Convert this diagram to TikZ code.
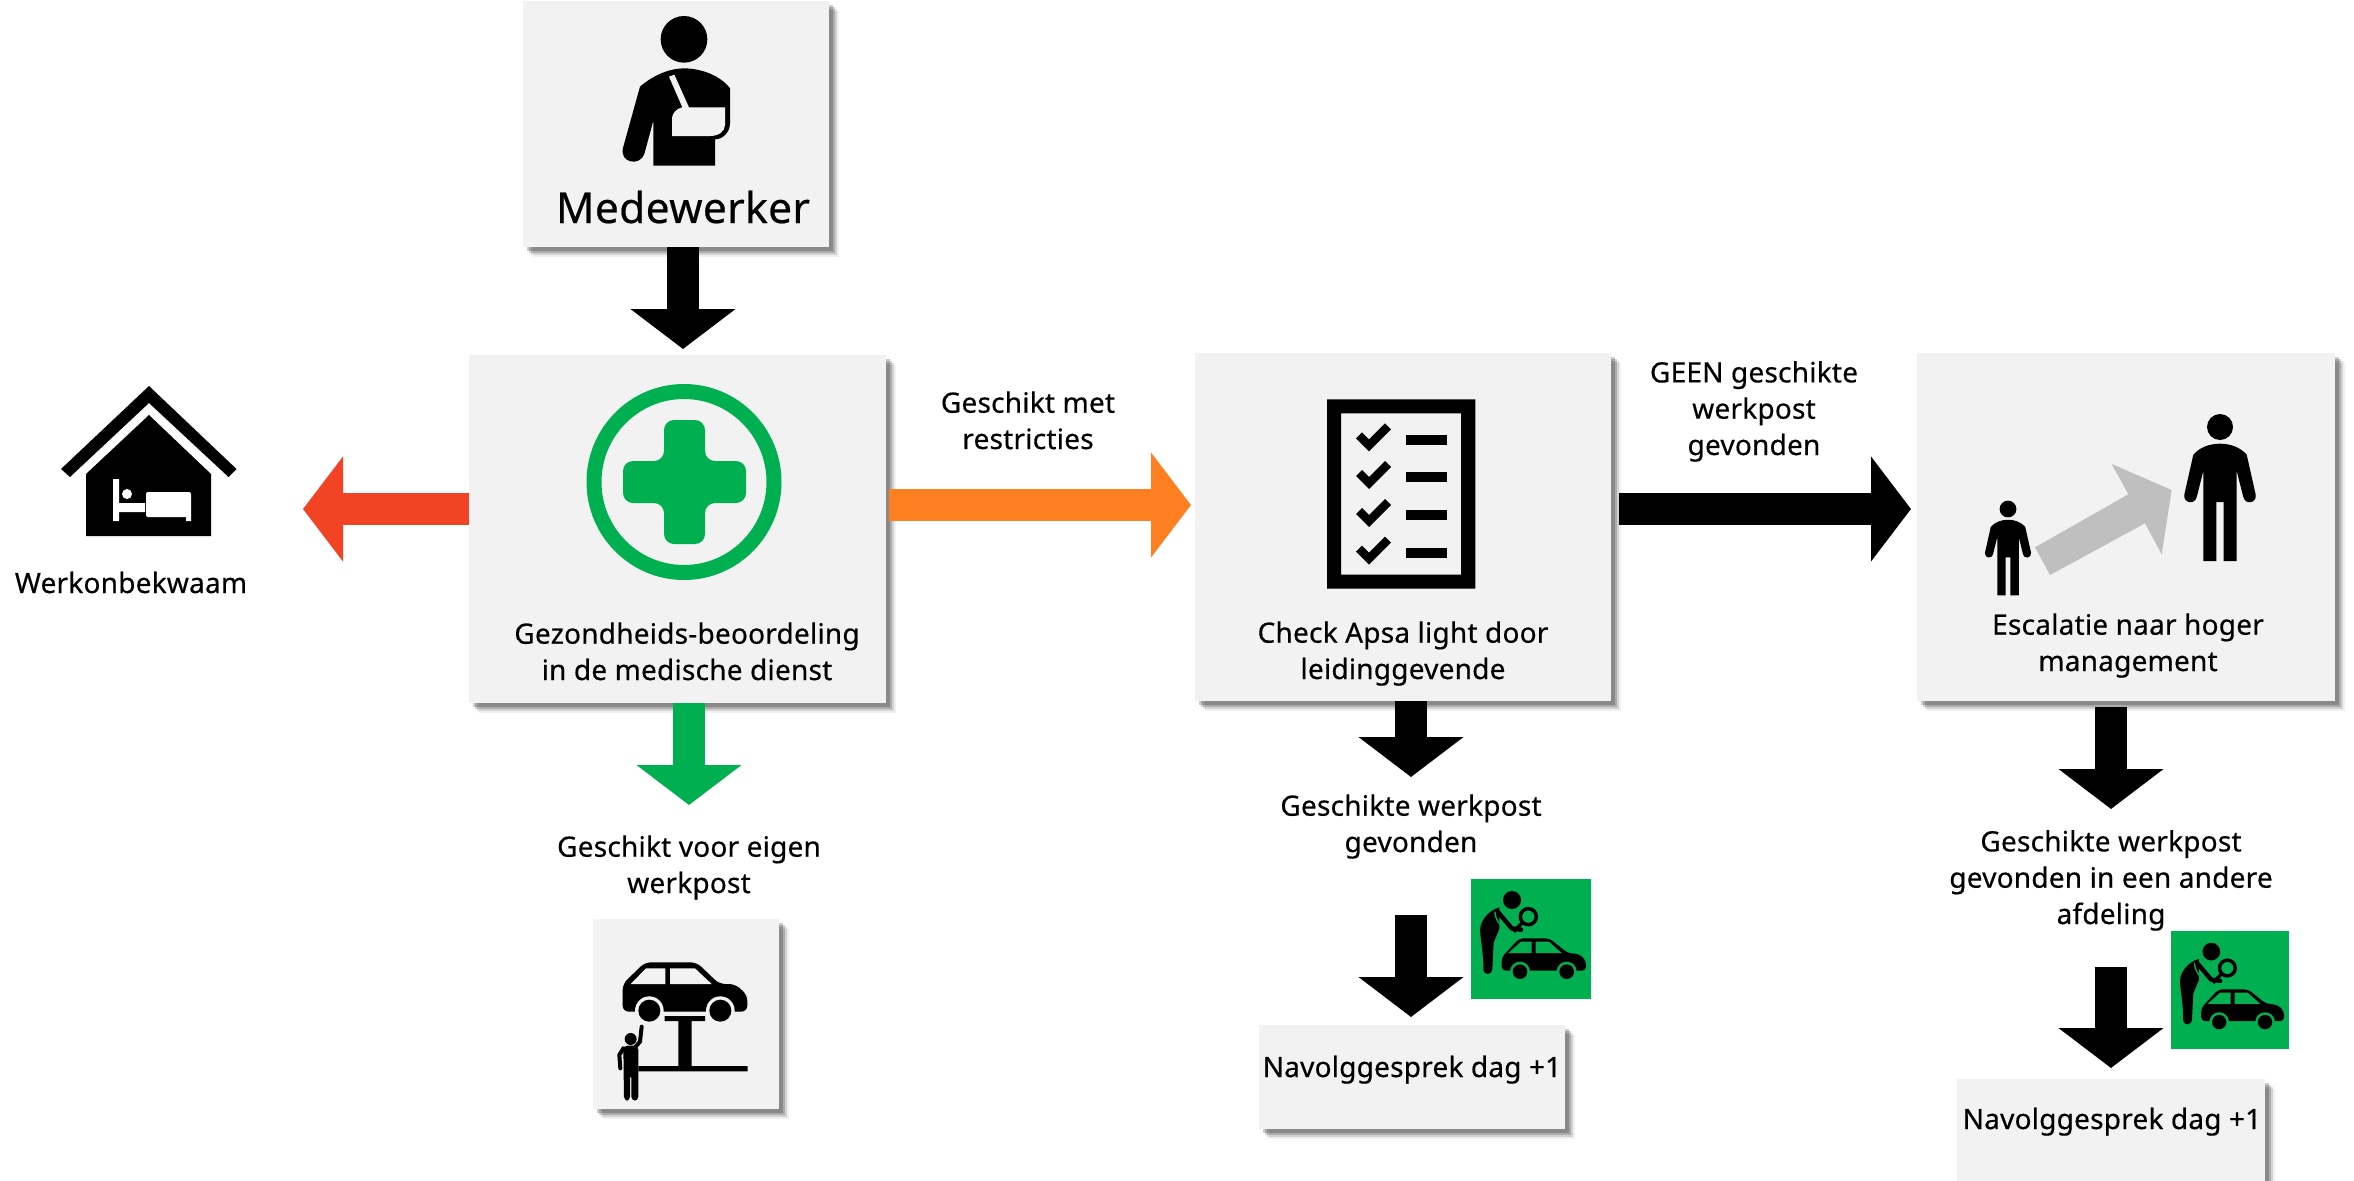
\documentclass[tikz,border=0pt]{standalone}
\usepackage{fontspec}
\setmainfont[LetterSpace=0.8,FakeBold=0.45]{Noto Sans}
\usetikzlibrary{arrows.meta,shadows}
\definecolor{boxgray}{HTML}{F2F2F2}
\definecolor{okgreen}{HTML}{00B050}
\definecolor{redarrow}{HTML}{F24324}
\definecolor{orangearrow}{HTML}{FF8021}
\definecolor{liftgray}{HTML}{BFBFBF}
\tikzset{
  cardbox/.style={fill=boxgray,draw=none,inner sep=0pt,outer sep=0pt,
    general shadow={shadow xshift=10pt,shadow yshift=-10pt,fill=black,opacity=.06},
    general shadow={shadow xshift=8pt,shadow yshift=-8pt,fill=black,opacity=.12},
    general shadow={shadow xshift=6pt,shadow yshift=-6pt,fill=black,opacity=.18},
    general shadow={shadow xshift=4pt,shadow yshift=-4pt,fill=black,opacity=.2}},
  lbl/.style={font=\fontsize{28}{36.3}\selectfont,align=center,inner sep=0pt,text=black},
  blockarrow/.style={line width=32pt,-{Triangle[length=40pt,width=103pt]}},
}
\newcommand{\figperson}[3]{%
  \begin{scope}[shift={(#1,#2)},scale=#3]
    \fill (0,0) circle[radius=13];
    \fill (0,16.7) .. controls (10,16.7) and (20,20) .. (26.7,27.7)
      -- (35.7,67.7) .. controls (37,76) and (25,79) .. (23,69)
      -- (16.7,44) -- (16.7,134) -- (3.7,134) -- (3.7,75) -- (-3.7,75)
      -- (-3.7,134) -- (-16.7,134) -- (-16.7,44) -- (-23,69)
      .. controls (-25,79) and (-37,76) .. (-35.7,67.7)
      -- (-26.7,27.7) .. controls (-20,20) and (-10,16.7) .. (0,16.7) -- cycle;
  \end{scope}}
\newcommand{\inspecticon}[3]{%
  \begin{scope}[shift={(#1,#2)},scale=#3/3]
    \fill[okgreen] (0,0) rectangle (360,360);
    \fill (123,63) circle[radius=27];
    \fill (85,85) .. controls (50,95) and (22,130) .. (28,165) .. controls (32,200) and (38,240) .. (37,270)
      .. controls (38,290) and (62,290) .. (64,270) -- (68,190) -- (85,150) -- (85,110) -- cycle;
    \draw[okgreen,line width=1.4pt*#3] (72,98) .. controls (72,125) and (90,140) .. (112,158);
    \draw[line width=4.5pt*#3,line cap=round,line join=round] (80,98) -- (122,148) -- (150,152);
    \draw[line width=3.5pt*#3] (172,113) circle[radius=24];
    \draw[line width=3.5pt*#3] (155,130) -- (128,158);
    \fill[rounded corners=4pt*#3] (92,275) -- (92,235) -- (145,178) -- (235,178) -- (290,222) -- (325,225) -- (345,245) -- (345,275) -- cycle;
    \fill[okgreen] (112,222) -- (150,188) -- (182,188) -- (182,222) -- cycle
      (194,188) -- (234,188) -- (272,222) -- (194,222) -- cycle;
    \foreach \wx in {147,287}{
      \fill[okgreen] (\wx,278) circle[radius=30];
      \fill (\wx,278) circle[radius=22];}
  \end{scope}}
\begin{document}
\begin{tikzpicture}[x=1pt,y=-1pt]
\clip (0,0) rectangle (2354,1181);
\fill[white] (0,0) rectangle (2354,1181);
% cards
\node[cardbox,minimum width=306pt,minimum height=246pt] (med) at (676,124) {};
\node[cardbox,minimum width=417pt,minimum height=348pt] (gez) at (677.5,529) {};
\node[cardbox,minimum width=416pt,minimum height=348pt] (chk) at (1403,527) {};
\node[cardbox,minimum width=418pt,minimum height=348pt] (esc) at (2126,527) {};
\node[cardbox,minimum width=186pt,minimum height=190pt] (lift) at (686,1014) {};
\node[cardbox,minimum width=306pt,minimum height=104pt] (nav1) at (1412,1077) {};
\node[cardbox,minimum width=308pt,minimum height=104pt] (nav2) at (2111,1131) {};
% arrow ends
\coordinate (t1) at (683,349);
\coordinate (t2) at (303,509);
\coordinate (t3) at (689,805);
\coordinate (s4) at (889,505);
\coordinate (t4) at (1191,505);
\coordinate (s5) at (1619,509);
\coordinate (t5) at (1911,509);
\coordinate (t6) at (1411,777);
\coordinate (s7) at (1411,915);
\coordinate (t7) at (1411,1017);
\coordinate (s8) at (2111,707);
\coordinate (t8) at (2111,809);
\coordinate (s9) at (2111,967);
\coordinate (t9) at (2111,1068);
% arrows
\draw[blockarrow,black] (t1 |- med.south) -- (t1);
\draw[blockarrow,redarrow] (gez.west |- t2) -- (t2);
\draw[blockarrow,okgreen] (t3 |- gez.south) -- (t3);
\draw[blockarrow,orangearrow] (s4) -- (t4);
\draw[blockarrow,black] (s5) -- (t5);
\draw[blockarrow,black] (t6 |- chk.south) -- (t6);
\draw[blockarrow,black] (s7) -- (t7);
\draw[blockarrow,black] (s8) -- (t8);
\draw[blockarrow,black] (s9) -- (t9);
% labels (the base anchor of a multi-line node is its last line)
\node[lbl,font=\fontsize{42.5}{50}\selectfont,anchor=base] (lmed) at (683,223) {Medewerker};
\node[lbl,anchor=base] (lwerk) at (131,593) {Werkonbekwaam};
\node[lbl,anchor=base] (lgez) at (687,680) {Gezondheids-beoordeling\\in de medische dienst};
\node[lbl,anchor=base] (lmet) at (1028,449) {Geschikt met\\restricties};
\node[lbl,anchor=base] (lchk) at (1403,679) {Check Apsa light door\\leidinggevende};
\node[lbl,anchor=base] (lgeen) at (1754,455) {GEEN geschikte\\werkpost\\gevonden};
\node[lbl,anchor=base] (lesc) at (2128,671) {Escalatie naar hoger\\management};
\node[lbl,anchor=base] (leig) at (689,893) {Geschikt voor eigen\\werkpost};
\node[lbl,anchor=base] (lgev) at (1411,852) {Geschikte werkpost\\gevonden};
\node[lbl,anchor=base] (land) at (2111,924) {Geschikte werkpost\\gevonden in een andere\\afdeling};
\node[lbl,anchor=base] (lnav1) at (1412,1077) {Navolggesprek dag +1};
\node[lbl,anchor=base] (lnav2) at (2112,1129) {Navolggesprek dag +1};
% patient icon
\begin{scope}[shift={(480,0)},scale=1/3]
  \fill (612,118) circle[radius=70];
  \fill (480,260) .. controls (520,225) and (570,205) .. (612,205)
    .. controls (660,205) and (720,225) .. (750,265)
    -- (750,370) .. controls (750,395) and (730,418) .. (705,418)
    -- (705,497) -- (520,497) -- (520,362) -- (493,462)
    .. controls (480,500) and (415,490) .. (430,440) -- cycle;
  \fill[boxgray] (567,230) -- (583,224) -- (627,322) -- (735,322) -- (735,375)
    .. controls (735,395) and (715,408) .. (690,408)
    -- (576,408) -- (576,355) .. controls (576,340) and (590,325) .. (607,322) -- cycle;
\end{scope}
% house icon
\fill (149,386) -- (236.5,469) -- (228.5,477) -- (149,403) -- (70,477) -- (61,469) -- cycle;
\fill (149,415) -- (211,474) -- (211,536) -- (86,536) -- (86,474) -- cycle;
\fill[white] (113,479) rectangle (119,521) (119,503) rectangle (145,512) (186,515) rectangle (191,521);
\fill[white] (127,494) circle[radius=5];
\fill[white,rounded corners=2pt] (146,492) rectangle (191,517);
% medical cross
\fill[okgreen,even odd rule] (684,482) ellipse[x radius=97.5,y radius=98] (684,482) ellipse[x radius=82.5,y radius=83];
\fill[okgreen,rounded corners=10pt] (664,420) -- (705,420) -- (705,461) -- (746,461) -- (746,503) -- (705,503) -- (705,544) -- (664,544) -- (664,503) -- (623,503) -- (623,461) -- (664,461) -- cycle;
% checklist icon
\begin{scope}[shift={(1190,350)},scale=1/3]
  \fill[even odd rule] (411,148) rectangle (856,716) (453,190) rectangle (813,674);
  \foreach \dy/\ly in {0/254,113/366,227/481,340/594}{
    \fill[shift={(0,\dy)}] (498,265) -- (537,304) -- (603,238) -- (585,220) -- (537,268) -- (516,247) -- cycle;
    \fill (648,\ly) rectangle (771,\ly+30);}
\end{scope}
% escalation icon
\figperson{2220}{427}{1}
\figperson{2008}{509}{0.645}
\begin{scope}[shift={(1900,340)},scale=1/3]
  \fill[liftgray] (405,622) -- (450,705) -- (735,550) -- (785,643) -- (815,450) -- (635,372) -- (685,463) -- cycle;
\end{scope}
% car lift icon
\begin{scope}[shift={(560,900)},scale=1/3]
  \fill[rounded corners=6pt] (188,335) -- (188,252) -- (255,187) -- (410,187) -- (478,252) -- (525,252) -- (562,285) -- (562,335) -- cycle;
  \fill[boxgray] (212,252) -- (258,205) -- (316,205) -- (316,252) -- cycle
    (330,205) -- (405,205) -- (455,252) -- (330,252) -- cycle;
  \fill[boxgray] (268,332) circle[radius=43] (481,332) circle[radius=43];
  \fill[boxgray] (225,335) rectangle (524,345);
  \fill (268,332) circle[radius=33] (481,332) circle[radius=33];
  \fill (314,348) rectangle (435,363) (355,363) rectangle (395,498) (235,498) rectangle (563,514);
  \fill (212,417) circle[radius=18];
  \fill[rounded corners=4pt] (190,437) -- (235,437) -- (235,602) -- (214,602) -- (214,522) -- (210,522) -- (210,602) -- (192,602) -- cycle;
  \draw[line width=4pt,line cap=round] (225,442) -- (240,425) -- (245,380);
  \draw[line width=4pt,line cap=round] (190,445) -- (178,465) -- (181,505);
\end{scope}
% inspection icons
\inspecticon{1471}{879}{1}
\inspecticon{2171}{931}{0.983}
\end{tikzpicture}
\end{document}
